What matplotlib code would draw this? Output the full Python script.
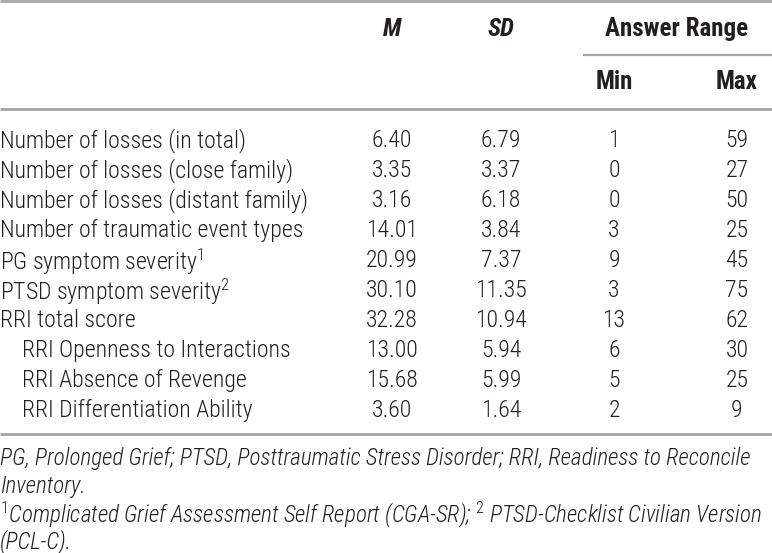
import matplotlib
matplotlib.use("Agg")
import matplotlib.pyplot as plt
from matplotlib import font_manager

# pick a condensed Helvetica-like face if one is installed
entries = font_manager.fontManager.ttflist
names = {f.name for f in entries}
FONT, STRETCH = "Liberation Sans", "normal"
for cand in ["Liberation Sans Narrow", "Roboto Condensed", "Open Sans Condensed"]:
    if cand in names:
        FONT = cand
        break
else:
    for f in entries:
        if f.name in ("Roboto", "Noto Sans", "Open Sans") and str(f.stretch) in ("condensed", "semi-condensed", "75", "87.5"):
            FONT, STRETCH = f.name, "condensed"
            break

plt.rcParams['font.family'] = [FONT, 'DejaVu Sans']
plt.rcParams['font.stretch'] = STRETCH
plt.rcParams['mathtext.fontset'] = 'custom'
plt.rcParams['mathtext.rm'] = FONT + ':light'
plt.rcParams['mathtext.it'] = FONT + ':italic:light'

# ---- data ----
labels = ["Number of losses (in total)",
          "Number of losses (close family)",
          "Number of losses (distant family)",
          "Number of traumatic event types",
          "PG symptom severity$^1$",
          "PTSD symptom severity$^2$",
          "RRI total score",
          "RRI Openness to Interactions",
          "RRI Absence of Revenge",
          "RRI Differentiation Ability"]
indented = [False, False, False, False, False, False, False, True, True, True]
means = ["6.40", "3.35", "3.16", "14.01", "20.99", "30.10", "32.28", "13.00", "15.68", "3.60"]
sds = ["6.79", "3.37", "6.18", "3.84", "7.37", "11.35", "10.94", "5.94", "5.99", "1.64"]
mins = ["1", "0", "0", "3", "9", "3", "13", "6", "5", "2"]
maxs = ["59", "27", "50", "25", "45", "75", "62", "30", "25", "9"]
col_headers = ["M", "SD"]
group_header = "Answer Range"
sub_headers = ["Min", "Max"]
footnotes = ["PG, Prolonged Grief; PTSD, Posttraumatic Stress Disorder; RRI, Readiness to Reconcile",
             "Inventory.",
             "$^1$Complicated Grief Assessment Self Report (CGA-SR); $^2$ PTSD-Checklist Civilian Version",
             "(PCL-C)."]

W, H = 772, 553
fig = plt.figure(figsize=(W / 100, H / 100), dpi=100)
ax = fig.add_axes([0, 0, 1, 1])
ax.set_xlim(0, W)
ax.set_ylim(H, 0)
ax.axis('off')
renderer = fig.canvas.get_renderer()


def fit_size(s, target_px, base=15.0, **kw):
    t = fig.text(0, 0, s, fontsize=base, **kw)
    w = t.get_window_extent(renderer).width
    t.remove()
    return base * target_px / w


TXT = '#231f20'
LINE = '#a6a6a6'
BODY_W = 'light'
FS = min(17.5, fit_size(labels[2], 308, fontweight=BODY_W))
FS_FOOT = min(17.5,
              fit_size(footnotes[0], 768, fontstyle='italic', fontweight=BODY_W),
              fit_size(footnotes[2], 766, fontstyle='italic', fontweight=BODY_W))
FS_HEAD = min(18.0, fit_size(group_header, 152, fontweight='bold'))

col_x = [392, 501, 614, 737]

# rules
ax.plot([0, W], [1, 1], color=LINE, lw=2.0, solid_capstyle='butt')
ax.plot([583, W], [54.5, 54.5], color=LINE, lw=1.6, solid_capstyle='butt')
ax.plot([0, W], [109, 109], color=LINE, lw=2.0, solid_capstyle='butt')
ax.plot([0, W], [434, 434], color=LINE, lw=2.0, solid_capstyle='butt')

# headers
for x, h in zip(col_x[:2], col_headers):
    ax.text(x, 29, h, ha='center', va='center', fontsize=FS_HEAD, fontweight='bold',
            fontstyle='italic', color=TXT)
ax.text(677, 29, group_header, ha='center', va='center', fontsize=FS_HEAD,
        fontweight='bold', color=TXT)
for x, h in zip(col_x[2:], sub_headers):
    ax.text(x, 82, h, ha='center', va='center', fontsize=FS_HEAD, fontweight='bold', color=TXT)

# body
y0, dy = 138, 30
for i, lab in enumerate(labels):
    y = y0 + i * dy
    ax.text(22 if indented[i] else 0, y, lab, ha='left', va='center_baseline',
            fontsize=FS, fontweight=BODY_W, color=TXT)
    for x, v in zip(col_x, [means[i], sds[i], mins[i], maxs[i]]):
        ax.text(x, y, v, ha='center', va='center_baseline', fontsize=FS,
                fontweight=BODY_W, color=TXT)

# footnotes
for j, fn in enumerate(footnotes):
    ax.text(0, 456 + j * 27.5, fn, ha='left', va='center_baseline', fontsize=FS_FOOT,
            fontstyle='italic', fontweight=BODY_W, color=TXT)

fig.savefig("out.png", dpi=100, facecolor='white')
